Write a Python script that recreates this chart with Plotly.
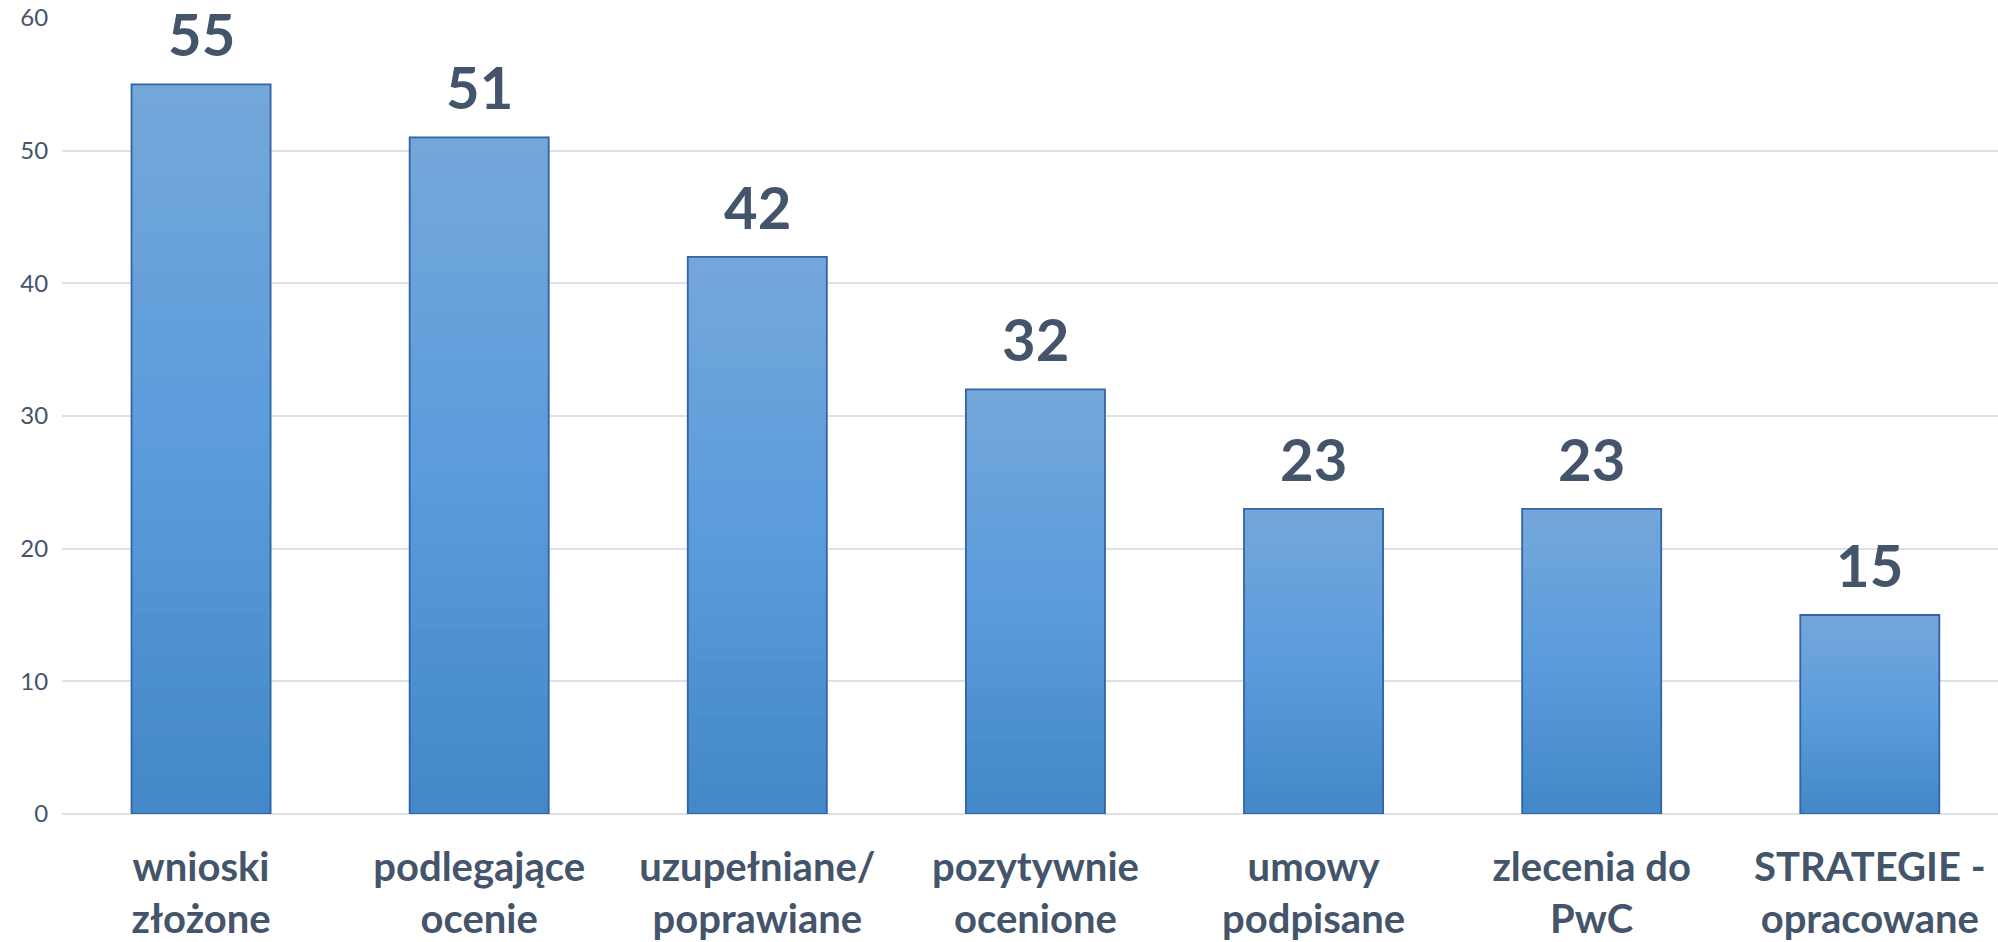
import plotly.graph_objects as go

categories = ["wnioski<br>złożone", "podlegające<br>ocenie", "uzupełniane/<br>poprawiane",
              "pozytywnie<br>ocenione", "umowy<br>podpisane", "zlecenia do<br>PwC",
              "STRATEGIE -<br>opracowane"]
values = [55, 51, 42, 32, 23, 23, 15]
y_ticks = [0, 10, 20, 30, 40, 50, 60]

TEXT = "#44546A"
FONT = "Lato, 'Open Sans', sans-serif"

# gradient stops (fraction of bar height -> rgb)
top_c = (116, 167, 218)
mid_c = (91, 156, 220)
bot_c = (66, 136, 199)

def lerp(a, b, t):
    return tuple(round(a[i] + (b[i] - a[i]) * t) for i in range(3))

def grad(f):
    # f: 0 bottom .. 1 top
    if f >= 0.5:
        return lerp(mid_c, top_c, (f - 0.5) / 0.5)
    return lerp(bot_c, mid_c, f / 0.5)

xs = list(range(len(values)))
fig = go.Figure()
N = 40
for k in range(N):
    f = 1 - k / N
    c = grad(f - 0.5 / N)
    fig.add_trace(go.Bar(
        x=xs, y=[v * f for v in values], width=0.5,
        marker=dict(color="rgb(%d,%d,%d)" % c, line=dict(width=0)),
        hoverinfo="skip", showlegend=False))
# outline
fig.add_trace(go.Bar(
    x=xs, y=values, width=0.5,
    marker=dict(color="rgba(0,0,0,0)", line=dict(color="#3562A6", width=1.8)),
    showlegend=False))

for x, v in zip(xs, values):
    fig.add_annotation(x=x, y=v, text="<b>%d</b>" % v, showarrow=False,
                       yanchor="bottom", yshift=15, borderpad=0,
                       font=dict(family=FONT, size=58, color=TEXT))

fig.update_layout(
    barmode="overlay",
    width=1998, height=942,
    margin=dict(l=62, r=0, t=18, b=128),
    paper_bgcolor="white", plot_bgcolor="white",
    xaxis=dict(range=[-0.5, 6.461], tickmode="array", tickvals=xs,
               ticktext=["<b>%s</b>" % c for c in categories],
               tickfont=dict(family=FONT, size=40, color=TEXT),
               showgrid=False, zeroline=False, showline=False, automargin=False,
               ticks="outside", ticklen=18, tickcolor="rgba(0,0,0,0)"),
    yaxis=dict(range=[0, 60], tickvals=y_ticks, automargin=False,
               tickfont=dict(family=FONT, size=24, color=TEXT),
               showgrid=True, gridcolor="#DDE1E8", gridwidth=1.5,
               zeroline=True, zerolinecolor="#DDE1E8", zerolinewidth=1.5,
               showline=False, ticks="outside", ticklen=8,
               tickcolor="rgba(0,0,0,0)"),
)
fig.write_html("out.html", config={"displayModeBar": False},
               post_script="document.body.style.margin='0';document.body.style.overflow='hidden';")
